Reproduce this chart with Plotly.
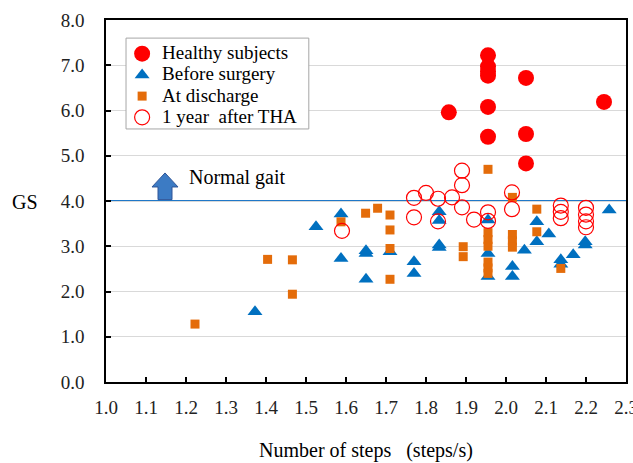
import plotly.graph_objects as go

# ---------------- data ----------------
healthy_x = [1.955, 1.955, 1.955, 1.955, 2.05, 2.245, 1.857, 1.955, 1.955, 2.05, 2.05]
healthy_y = [7.22, 6.97, 6.87, 6.77, 6.72, 6.19, 5.96, 6.08, 5.42, 5.48, 4.83]

before_x = [1.3725, 1.525, 1.5875, 1.5875, 1.65, 1.65, 1.65, 1.71, 1.77, 1.77,
            1.833, 1.833, 1.833, 1.833, 1.955, 1.955, 1.955, 2.016, 2.016, 2.046,
            2.077, 2.077, 2.107, 2.137, 2.137, 2.168, 2.198, 2.198, 2.258]
before_y = [1.55, 3.43, 3.71, 2.73, 2.90, 2.84, 2.27, 2.88, 2.66, 2.40,
            3.76, 3.57, 3.03, 2.97, 3.58, 2.84, 2.33, 2.55, 2.33, 2.91,
            3.54, 3.10, 3.27, 2.70, 2.60, 2.81, 3.10, 3.03, 3.80]

discharge_x = [1.2225, 1.404, 1.466, 1.466, 1.5875, 1.649, 1.679, 1.71, 1.71, 1.71,
               1.71, 1.893, 1.893, 1.955, 1.955, 1.955, 1.955, 1.955, 1.955, 1.955,
               2.016, 2.016, 2.016, 2.016, 2.077, 2.077, 2.137]
discharge_y = [1.28, 2.71, 2.70, 1.94, 3.54, 3.73, 3.84, 3.69, 3.36, 2.95,
               2.27, 2.99, 2.77, 4.70, 3.30, 3.15, 3.00, 2.65, 2.52, 2.40,
               4.08, 3.26, 3.12, 2.98, 3.82, 3.32, 2.51]

after_x = [1.59, 1.77, 1.77, 1.80, 1.83, 1.83, 1.865, 1.89, 1.89, 1.89,
           1.92, 1.955, 1.955, 2.015, 2.015, 2.137, 2.137, 2.137, 2.2, 2.2,
           2.2, 2.2]
after_y = [3.34, 4.07, 3.64, 4.18, 4.05, 3.55, 4.08, 4.67, 4.35, 3.86,
           3.59, 3.75, 3.56, 4.19, 3.82, 3.90, 3.76, 3.62, 3.85, 3.70,
           3.55, 3.42]

series_names = ["Healthy subjects", "Before surgery", "At discharge", "1 year\u00a0 after THA"]
x_ticks = [1.0, 1.1, 1.2, 1.3, 1.4, 1.5, 1.6, 1.7, 1.8, 1.9, 2.0, 2.1, 2.2, 2.3]
y_ticks = [0, 1, 2, 3, 4, 5, 6, 7, 8]
normal_gait = 4.0

FONT = "Liberation Serif"
RED = "#FF0000"
BLUE = "#0070C0"
ORANGE = "#E46C0A"


def lname(s):
    return f'<span style="font-size:19px">{s}</span>'


fig = go.Figure()
fig.add_trace(go.Scatter(x=healthy_x, y=healthy_y, mode="markers", name=lname(series_names[0]),
                         marker=dict(symbol="circle", size=16, color=RED)))
fig.add_trace(go.Scatter(x=before_x, y=before_y, mode="markers", name=lname(series_names[1]),
                         marker=dict(symbol="triangle-up", size=13, color=BLUE)))
fig.add_trace(go.Scatter(x=discharge_x, y=discharge_y, mode="markers", name=lname(series_names[2]),
                         marker=dict(symbol="square", size=9, color=ORANGE)))
fig.add_trace(go.Scatter(x=after_x, y=after_y, mode="markers", name=lname(series_names[3]),
                         marker=dict(symbol="circle-open", size=15, color=RED,
                                     line=dict(width=1.2, color=RED))))

# normal gait line
fig.add_shape(type="line", xref="x", yref="y", x0=x_ticks[0], x1=x_ticks[-1],
              y0=normal_gait, y1=normal_gait, line=dict(color="#1F78C8", width=2.2), layer="below")

# block arrow
ax0, ax1, hx0, hx1 = 1.13, 1.165, 1.115, 1.18
ay0, ayh, ayt = 4.03, 4.31, 4.62
path = (f"M {ax0} {ay0} L {ax1} {ay0} L {ax1} {ayh} L {hx1} {ayh} "
        f"L {(hx0 + hx1) / 2} {ayt} L {hx0} {ayh} L {ax0} {ayh} Z")
fig.add_shape(type="path", xref="x", yref="y", path=path,
              fillcolor="#3C7BC4", line=dict(color="#2F5597", width=1))

# legend frame
fig.add_shape(type="rect", xref="paper", yref="paper", x0=0.0385, x1=0.390, y0=0.699, y1=0.950,
              line=dict(color="#A6A6A6", width=1), fillcolor="white", layer="above")

fig.add_annotation(x=1.2025, y=4.53, xref="x", yref="y", text="Normal gait",
                   showarrow=False, xanchor="left", yanchor="middle",
                   font=dict(family=FONT, size=20, color="#000000"))

fig.add_annotation(x=0, y=0.5, xref="paper", yref="paper", text="GS", showarrow=False,
                   xanchor="center", yanchor="middle", xshift=-81, yshift=-1,
                   font=dict(family=FONT, size=20, color="#000000"))
fig.add_annotation(x=0.5, y=0, xref="paper", yref="paper",
                   text="Number of steps\u00a0\u00a0\u00a0(steps/s)", showarrow=False,
                   xanchor="center", yanchor="middle", yshift=-68,
                   font=dict(family=FONT, size=20, color="#000000"))

fig.update_xaxes(range=[x_ticks[0], x_ticks[-1]], tickvals=x_ticks,
                 ticktext=[f"{v:.1f}" for v in x_ticks],
                 showgrid=False, zeroline=False, showline=True, mirror=True,
                 linecolor="#000000", linewidth=1.5, ticks="inside", ticklen=5,
                 tickcolor="#000000", tickwidth=1.5, ticklabelstandoff=7,
                 ticklabeloverflow="allow", automargin=False,
                 tickfont=dict(family=FONT, size=19, color="#222222"))
fig.update_yaxes(range=[y_ticks[0], y_ticks[-1]], tickvals=y_ticks,
                 ticktext=[f"{v:.1f}" for v in y_ticks],
                 showgrid=True, gridcolor="#D9D9D9", gridwidth=1, zeroline=False,
                 showline=True, mirror=True, linecolor="#000000", linewidth=1.5,
                 ticks="inside", ticklen=5, tickcolor="#000000", tickwidth=1.5,
                 ticklabelstandoff=16, automargin=False,
                 tickfont=dict(family=FONT, size=19, color="#222222"))

fig.update_layout(
    width=633, height=463,
    margin=dict(l=106, r=7, t=20, b=81),
    plot_bgcolor="white", paper_bgcolor="white",
    font=dict(family=FONT),
    showlegend=True,
    legend=dict(x=0.031, y=0.95, xanchor="left", yanchor="top",
                bgcolor="rgba(0,0,0,0)", borderwidth=0,
                font=dict(family=FONT, size=14, color="#000000"),
                itemwidth=30, tracegroupgap=0),
)

fig.write_html("out.html")
